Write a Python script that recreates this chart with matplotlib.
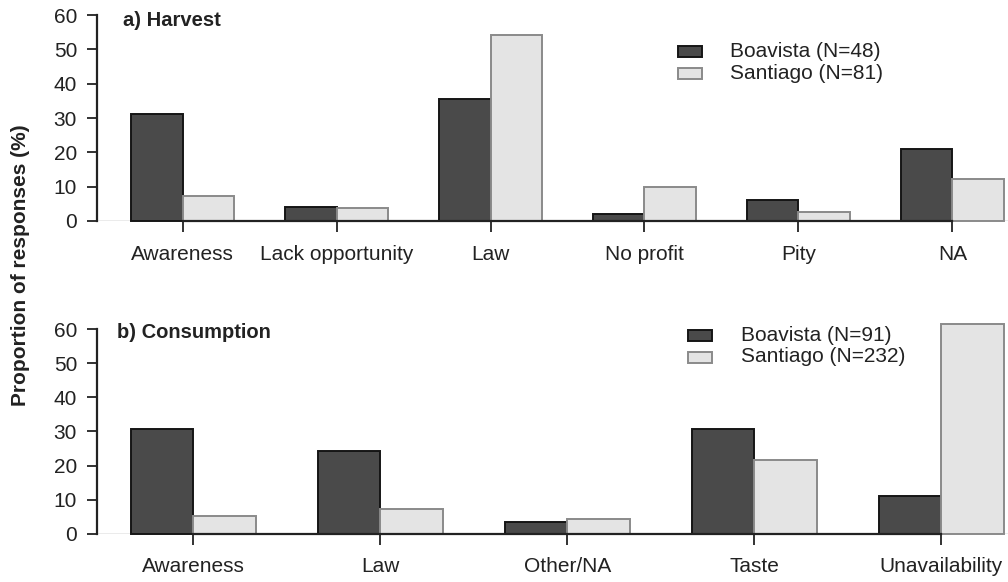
import matplotlib
matplotlib.use("Agg")
import matplotlib.pyplot as plt
from matplotlib.patches import Rectangle

plt.rcParams['font.family'] = ['Liberation Sans', 'DejaVu Sans']

# Panel a) reasons for not harvesting
harvest_categories = ["Awareness", "Lack opportunity", "Law", "No profit", "Pity", "NA"]
harvest_boavista = [31.25, 4.17, 35.42, 2.08, 6.25, 20.83]
harvest_santiago = [7.4, 3.7, 54.3, 9.9, 2.5, 12.3]
harvest_labels = ["Boavista (N=48)", "Santiago (N=81)"]

# Panel b) reasons for not consuming
consumption_categories = ["Awareness", "Law", "Other/NA", "Taste", "Unavailability"]
consumption_boavista = [30.8, 24.2, 3.3, 30.8, 11.0]
consumption_santiago = [5.2, 7.3, 4.3, 21.6, 61.6]
consumption_labels = ["Boavista (N=91)", "Santiago (N=232)"]

y_ticks = [0, 10, 20, 30, 40, 50, 60]

W, H = 1008, 582
DARK_FILL, DARK_EDGE = "#4a4a4a", "#151515"
LIGHT_FILL, LIGHT_EDGE = "#e4e4e4", "#8a8a8a"
TEXT = "#222222"
FS = 15

fig = plt.figure(figsize=(W / 100, H / 100), dpi=100)


def px_axes(left, top, right, bottom):
    return fig.add_axes([left / W, 1 - bottom / H, (right - left) / W, (bottom - top) / H])


def draw_panel(ax, cats, boa, san, xlim):
    n = len(cats)
    ax.set_xlim(*xlim)
    ax.set_ylim(0, 62.4)
    # thin reference line along zero
    ax.axhline(0, color="#9a9a9a", lw=1.0, zorder=1)
    for i in range(n):
        ax.bar(1 + 3 * i, boa[i], width=1, align="edge", color=DARK_FILL,
               edgecolor=DARK_EDGE, linewidth=1.4, zorder=2, clip_on=False)
        ax.bar(2 + 3 * i, san[i], width=1, align="edge", color=LIGHT_FILL,
               edgecolor=LIGHT_EDGE, linewidth=1.4, zorder=2, clip_on=False)
    ticks = [2 + 3 * i for i in range(n)]
    ax.set_xticks(ticks)
    ax.set_xticklabels(cats, fontsize=FS, color=TEXT)
    ax.set_yticks(y_ticks)
    ax.set_yticklabels([str(v) for v in y_ticks], fontsize=FS, color=TEXT)
    for s in ("top", "right"):
        ax.spines[s].set_visible(False)
    ax.spines["left"].set_bounds(0, 60)
    ax.spines["bottom"].set_bounds(ticks[0], ticks[-1])
    for s in ("left", "bottom"):
        ax.spines[s].set_linewidth(1.6)
        ax.spines[s].set_color(TEXT)
        ax.spines[s].set_zorder(3)
    ax.tick_params(axis="y", length=7.5, width=1.3, pad=6.5, color=TEXT)
    ax.tick_params(axis="x", length=8, width=1.3, pad=9, color=TEXT)
    ax.patch.set_visible(False)


def draw_legend(labels, box_left, box_w, box_h, row_y, text_left):
    fills = [(DARK_FILL, DARK_EDGE), (LIGHT_FILL, LIGHT_EDGE)]
    for (fc, ec), lab, y in zip(fills, labels, row_y):
        fig.add_artist(Rectangle((box_left / W, 1 - (y + box_h / 2) / H), box_w / W, box_h / H,
                                 facecolor=fc, edgecolor=ec, linewidth=1.4,
                                 transform=fig.transFigure))
        fig.text(text_left / W, 1 - y / H, lab, fontsize=FS, color=TEXT,
                 ha="left", va="center")


ax1 = px_axes(96.5, 6.8, 1008, 221)
draw_panel(ax1, harvest_categories, harvest_boavista, harvest_santiago, (0.32, 18.085))
fig.text(123 / W, 1 - 20 / H, "a) Harvest", fontsize=14.5, fontweight="bold",
         color=TEXT, ha="left", va="center")
draw_legend(harvest_labels, 678, 24, 11, [51.5, 73.3], 730)

ax2 = px_axes(96.5, 321.1, 1008, 533.7)
draw_panel(ax2, consumption_categories, consumption_boavista, consumption_santiago,
           (0.447, 15.07))
fig.text(117 / W, 1 - 333 / H, "b) Consumption", fontsize=14.5, fontweight="bold",
         color=TEXT, ha="left", va="center")
draw_legend(consumption_labels, 688, 24, 11, [335.5, 357], 741)

fig.text(21 / W, 1 - 265 / H, "Proportion of responses (%)", fontsize=15,
         fontweight="bold", color=TEXT, rotation=90, ha="center", va="center")

fig.savefig("out.png", dpi=100)
